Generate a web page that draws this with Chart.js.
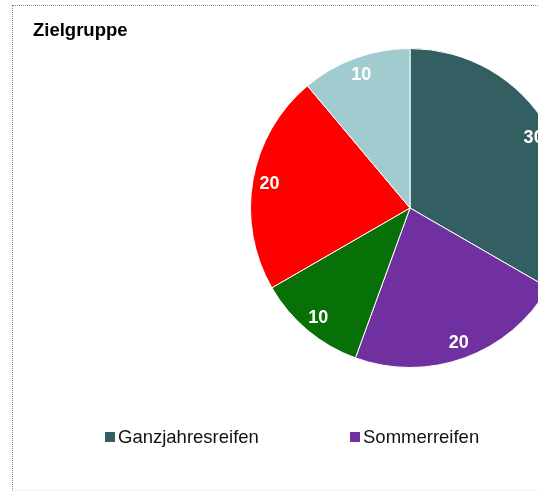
<!DOCTYPE html>
<html><head><meta charset="utf-8">
<script src="https://cdn.jsdelivr.net/npm/chart.js@4/dist/chart.umd.min.js"></script>
<style>
html,body{margin:0;padding:0;overflow:hidden;background:#fff;width:538px;height:491px}
#box{position:absolute;left:12px;top:5px;width:796px;height:484px;border:1px dotted #8a8a8a;border-bottom:1px dotted #e4e4e4;}
#c{position:absolute;left:0;top:0;}
#legend{position:absolute;left:92px;top:420px;display:flex;white-space:nowrap}
.item{width:245px;flex:none;display:flex;align-items:center;height:22px;font:18.5px "Liberation Sans",Arial,sans-serif;color:#111}
.sw{width:10px;height:10px;margin-right:3px;flex:none}
</style></head>
<body>
<div id="box"><canvas id="c" width="796" height="484"></canvas><div id="legend"></div></div>
<script>
const title = 'Zielgruppe';
const categories = ['Ganzjahresreifen', 'Sommerreifen', 'Winterreifen', 'Sportreifen', 'Sonstige'];
const values = [30, 20, 10, 20, 10];
const colors = ['#335F62', '#7030A0', '#077007', '#FF0000', '#A1CCCF'];

const legend = document.getElementById('legend');
categories.forEach((c, i) => {
  const it = document.createElement('div'); it.className = 'item';
  const sw = document.createElement('span'); sw.className = 'sw'; sw.style.background = colors[i];
  const tx = document.createElement('span'); tx.textContent = c;
  it.appendChild(sw); it.appendChild(tx); legend.appendChild(it);
});

const sliceLabels = {
  id: 'sliceLabels',
  afterDatasetsDraw(chart) {
    const ctx = chart.ctx;
    const meta = chart.getDatasetMeta(0);
    ctx.save();
    ctx.fillStyle = '#fff';
    ctx.font = 'bold 18px "Liberation Sans", Arial, sans-serif';
    ctx.textAlign = 'center';
    ctx.textBaseline = 'middle';
    meta.data.forEach((arc, i) => {
      const p = arc.getProps(['x', 'y', 'startAngle', 'endAngle', 'outerRadius'], true);
      const a = (p.startAngle + p.endAngle) / 2;
      const r = p.outerRadius * 0.895;
      ctx.fillText(String(values[i]), p.x + Math.cos(a) * r, p.y + Math.sin(a) * r + 1);
    });
    ctx.restore();
  }
};

new Chart(document.getElementById('c'), {
  type: 'pie',
  data: {
    labels: categories,
    datasets: [{ data: values, backgroundColor: colors, borderColor: '#ffffff', borderWidth: 1 }]
  },
  options: {
    responsive: false,
    animation: false,
    layout: { padding: { left: 20, right: 22, top: 0, bottom: 122 } },
    plugins: {
      legend: { display: false },
      tooltip: { enabled: false },
      title: {
        display: true, text: title, align: 'start', color: '#000',
        font: { family: '"Liberation Sans", Arial, sans-serif', size: 18.5, weight: 'bold' },
        padding: { top: 14, bottom: 5.8 }
      }
    }
  },
  plugins: [sliceLabels]
});
</script>
</body></html>
